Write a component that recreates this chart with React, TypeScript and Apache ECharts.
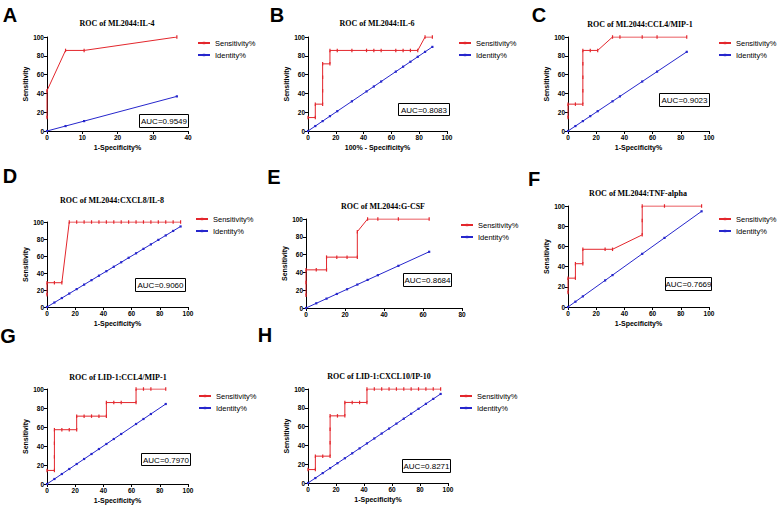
import React, { useEffect, useRef } from "react";
import * as echarts from "echarts";

// ---- Data (x = 1-Specificity%, y = Sensitivity%) ----
const sensX_A = [0, 0, 5.26, 10.53, 36.84];
const sensY_A = [14.29, 42.86, 85.71, 85.71, 100];
const id_A = [0, 5.26, 10.53, 36.84];

const sensX_B = [0, 5.26, 5.26, 10.53, 10.53, 10.53, 10.53, 15.79, 15.79, 21.05, 31.58, 42.11, 47.37, 52.63, 63.16, 68.42, 73.68, 78.95, 84.21, 89.47];
const sensY_B = [14.29, 14.29, 28.57, 28.57, 42.86, 57.14, 71.43, 71.43, 85.71, 85.71, 85.71, 85.71, 85.71, 85.71, 85.71, 85.71, 85.71, 85.71, 100, 100];
const id_B = [0, 5.26, 10.53, 15.79, 21.05, 31.58, 42.11, 47.37, 52.63, 63.16, 68.42, 73.68, 78.95, 84.21, 89.47];

const sensX_C = [0, 0, 5.26, 10.53, 10.53, 10.53, 10.53, 10.53, 15.79, 21.05, 31.58, 36.84, 52.63, 63.16, 84.21];
const sensY_C = [14.29, 28.57, 28.57, 28.57, 42.86, 57.14, 71.43, 85.71, 85.71, 85.71, 100, 100, 100, 100, 100];
const id_C = [0, 5.26, 10.53, 15.79, 21.05, 31.58, 36.84, 52.63, 63.16, 84.21];

const sensX_D = [0, 0, 5.26, 10.53, 15.79, 21.05, 26.32, 31.58, 36.84, 42.11, 47.37, 52.63, 57.89, 63.16, 68.42, 73.68, 78.95, 84.21, 89.47, 94.74];
const sensY_D = [14.29, 28.57, 28.57, 28.57, 100, 100, 100, 100, 100, 100, 100, 100, 100, 100, 100, 100, 100, 100, 100, 100];
const id_D = [0, 5.26, 10.53, 15.79, 21.05, 26.32, 31.58, 36.84, 42.11, 47.37, 52.63, 57.89, 63.16, 68.42, 73.68, 78.95, 84.21, 89.47, 94.74];

const sensX_E = [0, 0, 0, 5.26, 10.53, 10.53, 15.79, 21.05, 26.32, 26.32, 31.58, 36.84, 47.37, 63.16];
const sensY_E = [14.29, 28.57, 42.86, 42.86, 42.86, 57.14, 57.14, 57.14, 57.14, 85.71, 100, 100, 100, 100];
const id_E = [0, 5.26, 10.53, 15.79, 21.05, 26.32, 31.58, 36.84, 47.37, 63.16];

const sensX_F = [0, 0, 5.26, 5.26, 10.53, 10.53, 26.32, 31.58, 52.63, 52.63, 52.63, 68.42, 94.74];
const sensY_F = [14.29, 28.57, 28.57, 42.86, 42.86, 57.14, 57.14, 57.14, 71.43, 85.71, 100, 100, 100];
const id_F = [0, 5.26, 10.53, 26.32, 31.58, 52.63, 68.42, 94.74];

const sensX_G = [0, 5.26, 5.26, 5.26, 5.26, 10.53, 15.79, 21.05, 21.05, 26.32, 31.58, 36.84, 42.11, 42.11, 47.37, 52.63, 63.16, 63.16, 68.42, 73.68, 84.21];
const sensY_G = [14.29, 14.29, 28.57, 42.86, 57.14, 57.14, 57.14, 57.14, 71.43, 71.43, 71.43, 71.43, 71.43, 85.71, 85.71, 85.71, 85.71, 100, 100, 100, 100];
const id_G = [0, 5.26, 10.53, 15.79, 21.05, 26.32, 31.58, 36.84, 42.11, 47.37, 52.63, 63.16, 68.42, 73.68, 84.21];

const sensX_H = [0, 5.26, 5.26, 10.53, 15.79, 15.79, 15.79, 15.79, 21.05, 26.32, 26.32, 31.58, 36.84, 42.11, 42.11, 47.37, 52.63, 57.89, 63.16, 68.42, 73.68, 78.95, 84.21, 89.47, 94.74];
const sensY_H = [14.29, 14.29, 28.57, 28.57, 28.57, 42.86, 57.14, 71.43, 71.43, 71.43, 85.71, 85.71, 85.71, 85.71, 100, 100, 100, 100, 100, 100, 100, 100, 100, 100, 100];
const id_H = [0, 5.26, 10.53, 15.79, 21.05, 26.32, 31.58, 36.84, 42.11, 47.37, 52.63, 57.89, 63.16, 68.42, 73.68, 78.95, 84.21, 89.47, 94.74];

const letters = ["A", "B", "C", "D", "E", "F", "G", "H"];
const titles = [
  "ROC of ML2044:IL-4",
  "ROC of ML2044:IL-6",
  "ROC of ML2044:CCL4/MIP-1",
  "ROC of ML2044:CXCL8/IL-8",
  "ROC of ML2044:G-CSF",
  "ROC of ML2044:TNF-alpha",
  "ROC of LID-1:CCL4/MIP-1",
  "ROC of LID-1:CXCL10/IP-10",
];
const aucs = ["AUC=0.9549", "AUC=0.8083", "AUC=0.9023", "AUC=0.9060", "AUC=0.8684", "AUC=0.7669", "AUC=0.7970", "AUC=0.8271"];
const xNames = ["1-Specificity%", "100% - Specificity%", "1-Specificity%", "1-Specificity%", "", "1-Specificity%", "1-Specificity%", "1-Specificity%"];
const xMax = [40, 100, 100, 100, 80, 100, 100, 100];
const xInterval = [10, 20, 20, 20, 20, 20, 20, 20];
const seriesNames = ["Sensitivity%", "Identity%"];

const sensX = [sensX_A, sensX_B, sensX_C, sensX_D, sensX_E, sensX_F, sensX_G, sensX_H];
const sensY = [sensY_A, sensY_B, sensY_C, sensY_D, sensY_E, sensY_F, sensY_G, sensY_H];
const ident = [id_A, id_B, id_C, id_D, id_E, id_F, id_G, id_H];

// ---- Layout (pixels) ----
const grids = [
  { l: 47, t: 37, w: 141, h: 94 },
  { l: 308, t: 37, w: 139, h: 94 },
  { l: 568, t: 37, w: 141, h: 94 },
  { l: 47, t: 222, w: 141, h: 85 },
  { l: 306, t: 219, w: 156, h: 89 },
  { l: 568, t: 206, w: 141, h: 101 },
  { l: 47, t: 389, w: 141, h: 95 },
  { l: 308, t: 389, w: 140, h: 94 },
];
const letterPos = [[10, 15], [277, 15], [539, 15], [10, 176], [274, 177], [534, 179], [8, 336], [265, 335]];
const titlePos = [[117, 23], [377, 23], [640, 24], [112, 200], [383, 206], [638, 193], [118, 377], [379, 376]];
const aucBox = [
  [139, 114, 49, 13], [398, 103, 51, 12], [659, 93, 50, 13], [135, 278, 50, 13],
  [403, 273, 48, 13], [665, 277, 46, 13], [141, 453, 49, 12], [402, 459, 48, 13],
];
const legendPos = [[197, 39], [458, 39], [718, 39], [195, 215], [460, 221], [718, 215], [198, 392], [459, 392]];

const RED = "#e3262c";
const BLUE = "#2626cc";
const SANS = 'Arial, "Liberation Sans", sans-serif';
const SERIF = '"Liberation Serif", "Times New Roman", serif';

export default function App() {
  const ref = useRef<HTMLDivElement>(null);
  useEffect(() => {
    if (!ref.current) return;
    const chart = echarts.init(ref.current, null, { renderer: "svg" });
    const grid: any[] = [];
    const xAxis: any[] = [];
    const yAxis: any[] = [];
    const series: any[] = [];
    const legend: any[] = [];
    const graphic: any[] = [];
    grids.forEach((g, i) => {
      grid.push({ left: g.l, top: g.t, width: g.w, height: g.h, containLabel: false });
      xAxis.push({
        type: "value", gridIndex: i, min: 0, max: xMax[i], interval: xInterval[i],
        name: xNames[i], nameLocation: "middle", nameGap: 13,
        nameTextStyle: { fontFamily: SANS, fontWeight: "bold", fontSize: 7, color: "#000" },
        axisLine: { show: true, onZero: false, lineStyle: { color: "#000", width: 1 } },
        axisTick: { show: true, length: 3, lineStyle: { color: "#000" } },
        axisLabel: { fontFamily: SANS, fontWeight: "bold", fontSize: 6.5, color: "#000", margin: 3 },
        splitLine: { show: false },
      });
      yAxis.push({
        type: "value", gridIndex: i, min: 0, max: 100, interval: 20,
        name: "Sensitivity", nameLocation: "middle", nameGap: 17, nameRotate: 90,
        nameTextStyle: { fontFamily: SANS, fontWeight: "bold", fontSize: 7, color: "#000" },
        axisLine: { show: true, onZero: false, lineStyle: { color: "#000", width: 1 } },
        axisTick: { show: true, length: 3, lineStyle: { color: "#000" } },
        axisLabel: { fontFamily: SANS, fontWeight: "bold", fontSize: 6.5, color: "#000", margin: 3 },
        splitLine: { show: false },
      });
      series.push({
        name: seriesNames[0], type: "line", xAxisIndex: i, yAxisIndex: i,
        data: sensX[i].map((x, k) => [x, sensY[i][k]]),
        symbol: "rect", symbolSize: [1.2, 3.5], showSymbol: true,
        legendIcon: "rect",
        lineStyle: { color: RED, width: 1 }, itemStyle: { color: RED },
      });
      series.push({
        name: seriesNames[1], type: "line", xAxisIndex: i, yAxisIndex: i,
        data: ident[i].map((v) => [v, v]),
        symbol: "rect", symbolSize: 2.2, showSymbol: true,
        legendIcon: "rect",
        lineStyle: { color: BLUE, width: 1 }, itemStyle: { color: BLUE },
      });
      legend.push({
        left: legendPos[i][0], top: legendPos[i][1], orient: "vertical", padding: 0,
        itemGap: 4, itemWidth: 12, itemHeight: 3, selectedMode: false,
        data: seriesNames,
        textStyle: { fontFamily: SANS, fontSize: 7.5, color: "#000" },
      });
      graphic.push({
        type: "text", x: letterPos[i][0], y: letterPos[i][1],
        style: { text: letters[i], font: `bold 20px ${SANS}`, fill: "#000", textAlign: "center", textVerticalAlign: "middle" },
      });
      graphic.push({
        type: "text", x: titlePos[i][0], y: titlePos[i][1],
        style: { text: titles[i], font: `bold 8px ${SERIF}`, fill: "#000", textAlign: "center", textVerticalAlign: "middle" },
      });
      const b = aucBox[i];
      graphic.push({
        type: "rect", shape: { x: b[0] + 0.5, y: b[1] + 0.5, width: b[2], height: b[3] },
        style: { fill: "#fff", stroke: "#000", lineWidth: 1 }, z: 10,
      });
      graphic.push({
        type: "text", x: b[0] + b[2] / 2 + 0.5, y: b[1] + b[3] / 2 + 1, z: 11,
        style: { text: aucs[i], font: `8px ${SANS}`, fill: "#000", textAlign: "center", textVerticalAlign: "middle" },
      });
    });
    chart.setOption({
      animation: false,
      backgroundColor: "#fff",
      grid, xAxis, yAxis, series, legend, graphic,
    });
    return () => chart.dispose();
  }, []);
  return <div ref={ref} style={{ position: "fixed", left: 0, top: 0, width: 777, height: 508, background: "#fff" }} />;
}
